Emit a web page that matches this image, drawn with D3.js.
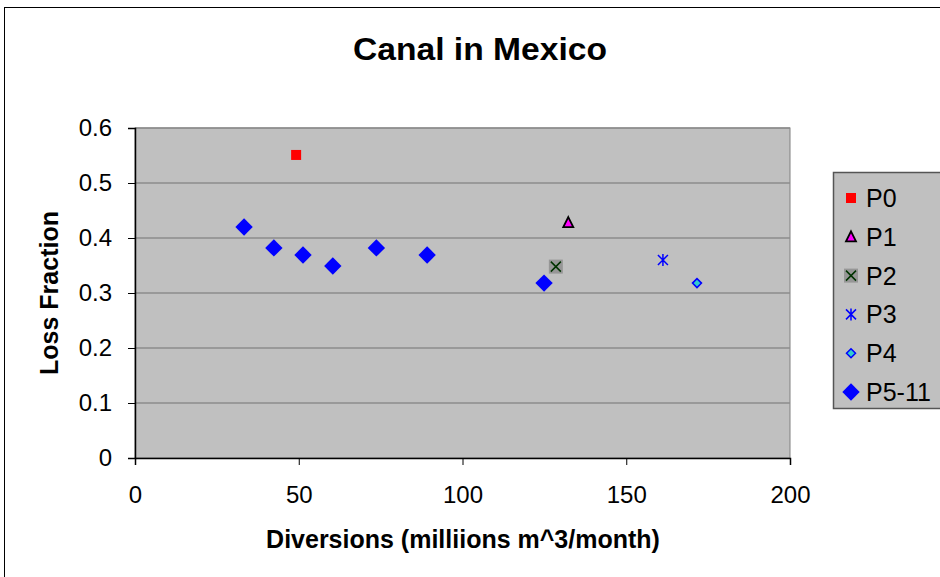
<!DOCTYPE html>
<html lang="en">
<head>
<meta charset="UTF-8">
<title>Canal in Mexico</title>
<script src="https://cdn.jsdelivr.net/npm/d3@7"></script>
<style>
  body { margin: 0; background: #fff; }
  text { font-family: "Liberation Sans", Arial, sans-serif; fill: #000; }
</style>
</head>
<body>
<div id="grafica"></div>
<script>
// series, one array per legend entry
seriesNames = ['P0', 'P1', 'P2', 'P3', 'P4', 'P5-11']
p0 = [[49.2, 0.551]]
p1 = [[132.3, 0.428]]
p2 = [[128.5, 0.348]]
p3 = [[161.2, 0.360]]
p4 = [[171.6, 0.318]]
p5_11 = [[33.3, 0.420], [42.4, 0.382], [51.3, 0.369], [60.4, 0.349],
         [73.7, 0.382], [89.2, 0.369], [124.9, 0.318]]
xTicks = [0, 50, 100, 150, 200]
yTicks = [0, 0.1, 0.2, 0.3, 0.4, 0.5, 0.6]

ancho = 940
alto = 577

svg = d3.select('#grafica')
        .append('svg')
        .attr('width', ancho)
        .attr('height', alto)

// outer chart frame
svg.append('rect')
   .attr('x', 4.5).attr('y', 7.5)
   .attr('width', 960).attr('height', 600)
   .attr('fill', 'none')
   .attr('stroke', '#000')

x = d3.scaleLinear().domain([0, 200]).range([135, 790])
y = d3.scaleLinear().domain([0, 0.6]).range([458, 128])

// plot area
svg.append('rect')
   .attr('x', x(0)).attr('y', y(0.6))
   .attr('width', x(200) - x(0)).attr('height', y(0) - y(0.6))
   .attr('fill', '#c0c0c0')
   .attr('stroke', '#808080')

svg.selectAll('line.grid')
   .data(yTicks.filter(d => d > 0))
   .enter().append('line')
   .attr('class', 'grid')
   .attr('x1', x(0)).attr('x2', x(200))
   .attr('y1', d => y(d)).attr('y2', d => y(d))
   .attr('stroke', '#8c8c8c')
   .attr('stroke-width', 1.5)

yAxis = svg.append('g')
   .attr('transform', 'translate(' + x(0) + ',0)')
   .call(d3.axisLeft(y).tickValues(yTicks).tickSize(7).tickPadding(16)
           .tickFormat(d => d === 0 ? '0' : d3.format('.1f')(d)))
xAxis = svg.append('g')
   .attr('transform', 'translate(0,' + y(0) + ')')
   .call(d3.axisBottom(x).tickValues(xTicks).tickSize(7).tickPadding(21))

;[yAxis, xAxis].forEach(function(g) {
  g.select('.domain').attr('stroke', '#000').attr('stroke-width', 1.5)
  g.selectAll('.tick line').attr('stroke', '#000')
  g.selectAll('.tick text')
   .style('font-family', '"Liberation Sans", Arial, sans-serif')
   .style('font-size', '24px')
   .attr('fill', '#000')
})

// titles
svg.append('text')
   .attr('x', 480).attr('y', 60)
   .attr('text-anchor', 'middle')
   .attr('textLength', 254).attr('lengthAdjust', 'spacingAndGlyphs')
   .style('font-size', '31px').style('font-weight', 'bold')
   .text('Canal in Mexico')
svg.append('text')
   .attr('x', 463).attr('y', 548)
   .attr('text-anchor', 'middle')
   .style('font-size', '25px').style('font-weight', 'bold')
   .text('Diversions (milliions m^3/month)')
svg.append('text')
   .attr('transform', 'translate(58,293) rotate(-90)')
   .attr('text-anchor', 'middle')
   .style('font-size', '25px').style('font-weight', 'bold')
   .text('Loss Fraction')

// marker painters
function marker(g, name) {
  if (name === 'P0') {
    g.append('rect').attr('x', -5).attr('y', -5).attr('width', 10).attr('height', 10)
     .attr('fill', '#ff0000')
  } else if (name === 'P1') {
    g.append('path').attr('d', 'M0,-5.5L5,4.5L-5,4.5Z')
     .attr('fill', '#ff00ff').attr('stroke', '#000').attr('stroke-width', 1.8)
  } else if (name === 'P2') {
    g.append('rect').attr('x', -7).attr('y', -7).attr('width', 14).attr('height', 14)
     .attr('fill', '#969696')
    g.append('path').attr('d', 'M-5,-5L5,5M5,-5L-5,5')
     .attr('stroke', '#003300').attr('stroke-width', 1.5)
  } else if (name === 'P3') {
    g.append('path').attr('d', 'M-5,-5L5,5M5,-5L-5,5M0,-6L0,6')
     .attr('stroke', '#0000ff').attr('stroke-width', 1.5)
  } else if (name === 'P4') {
    g.append('path').attr('d', 'M0,-4.5L4.5,0L0,4.5L-4.5,0Z')
     .attr('fill', '#33cccc').attr('stroke', '#0000ff').attr('stroke-width', 1.5)
  } else {
    g.append('path').attr('d', 'M0,-8.7L8.7,0L0,8.7L-8.7,0Z')
     .attr('fill', '#0000ff')
  }
}

allSeries = [p0, p1, p2, p3, p4, p5_11]
allSeries.forEach(function(data, i) {
  svg.selectAll('g.s' + i)
     .data(data)
     .enter().append('g')
     .attr('class', 's' + i)
     .attr('transform', d => 'translate(' + x(d[0]) + ',' + y(d[1]) + ')')
     .each(function() { marker(d3.select(this), seriesNames[i]) })
})

// legend
leg = svg.append('g')
leg.append('rect')
   .attr('x', 833.5).attr('y', 172.5)
   .attr('width', 120).attr('height', 236)
   .attr('fill', '#c0c0c0')
   .attr('stroke', '#555')
   .attr('stroke-width', 1.5)
seriesNames.forEach(function(n, i) {
  var cy = 198 + i * 38.8
  var g = leg.append('g').attr('transform', 'translate(851,' + cy + ')')
  marker(g, n)
  leg.append('text')
     .attr('x', 866).attr('y', cy + 9)
     .style('font-size', '25px')
     .text(n)
})
</script>
</body>
</html>
